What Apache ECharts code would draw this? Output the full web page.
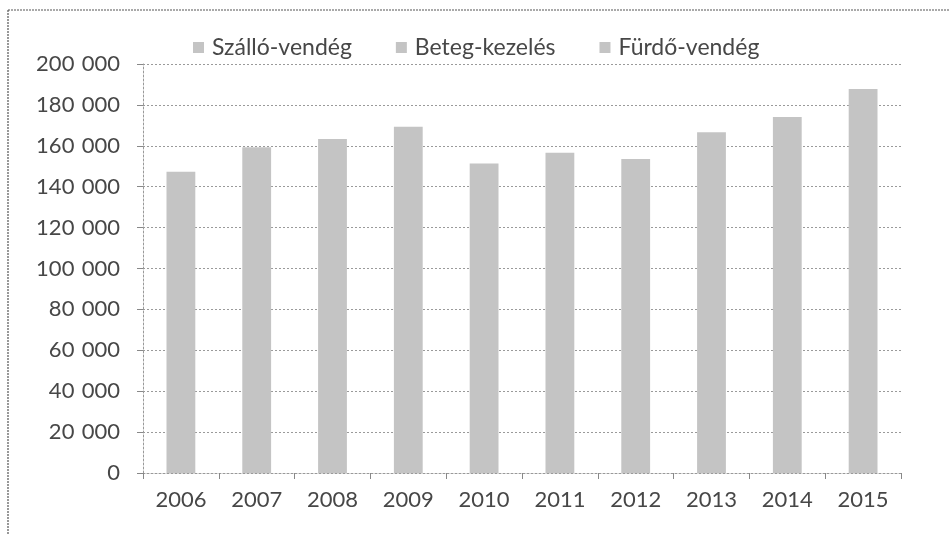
<!DOCTYPE html>
<html>
<head>
<meta charset="utf-8">
<script src="https://cdn.jsdelivr.net/npm/echarts@6/dist/echarts.min.js"></script>
<style>
html,body{margin:0;padding:0;background:#fff;}
#chart{width:949px;height:534px;}
</style>
</head>
<body>
<div id="chart"></div>
<script>
// Data (segments are indistinguishable in the scan,
// so the visible bar totals are carried by the first series)
var categories = ['2006','2007','2008','2009','2010','2011','2012','2013','2014','2015'];
var seriesNames = ['Szálló-vendég','Beteg-kezelés','Fürdő-vendég'];
var szalloVendeg = [147300,159300,163300,169300,151400,156600,153500,166600,174100,187800];
var betegKezeles = [];
var furdoVendeg = [];
var yTicks = [0,20000,40000,60000,80000,100000,120000,140000,160000,180000,200000];

function fmt(v){ return String(v).replace(/\B(?=(\d{3})+(?!\d))/g, '\u2004'); }

var font = 'Lato, "Open Sans", sans-serif';
var chart = echarts.init(document.getElementById('chart'), null, {renderer:'canvas'});
chart.setOption({
  backgroundColor:'#ffffff',
  animation:false,
  graphic:[
    {type:'line', shape:{x1:8,y1:10,x2:949,y2:10}, style:{stroke:'#555',lineWidth:1.2,lineDash:[2,1]}},
    {type:'line', shape:{x1:8,y1:10,x2:8,y2:534}, style:{stroke:'#555',lineWidth:1.2,lineDash:[2,1]}}
  ],
  legend:{
    top:31, left:188,
    itemWidth:11, itemHeight:11, itemGap:44,
    icon:'rect',
    textStyle:{fontFamily:font, fontSize:23, color:'#474747', padding:[0,0,0,3]},
    data:seriesNames
  },
  grid:{left:143, right:48, top:64, bottom:61, containLabel:false},
  xAxis:{
    type:'category', data:categories,
    axisLine:{show:true, lineStyle:{color:'#999', type:[2,2], width:1}},
    axisTick:{show:true, alignWithLabel:false, length:6, lineStyle:{color:'#888'}},
    axisLabel:{fontFamily:font, fontSize:22, color:'#474747', margin:16}
  },
  yAxis:{
    type:'value', min:yTicks[0], max:yTicks[yTicks.length-1], interval:20000,
    axisLine:{show:true, lineStyle:{color:'#999', type:[2,2], width:1}},
    axisTick:{show:true, length:6, lineStyle:{color:'#888'}},
    axisLabel:{fontFamily:font, fontSize:22, color:'#474747', margin:23, padding:[8,0,0,0], formatter:fmt},
    splitLine:{show:true, lineStyle:{color:'#9a9a9a', type:[2,2], width:1}}
  },
  series:[
    {name:seriesNames[0], type:'bar', stack:'t', data:szalloVendeg, barWidth:'38%', itemStyle:{color:'#c4c4c4'}},
    {name:seriesNames[1], type:'bar', stack:'t', data:betegKezeles, barWidth:'38%', itemStyle:{color:'#c4c4c4'}},
    {name:seriesNames[2], type:'bar', stack:'t', data:furdoVendeg, barWidth:'38%', itemStyle:{color:'#c4c4c4'}}
  ]
});
</script>
</body>
</html>
